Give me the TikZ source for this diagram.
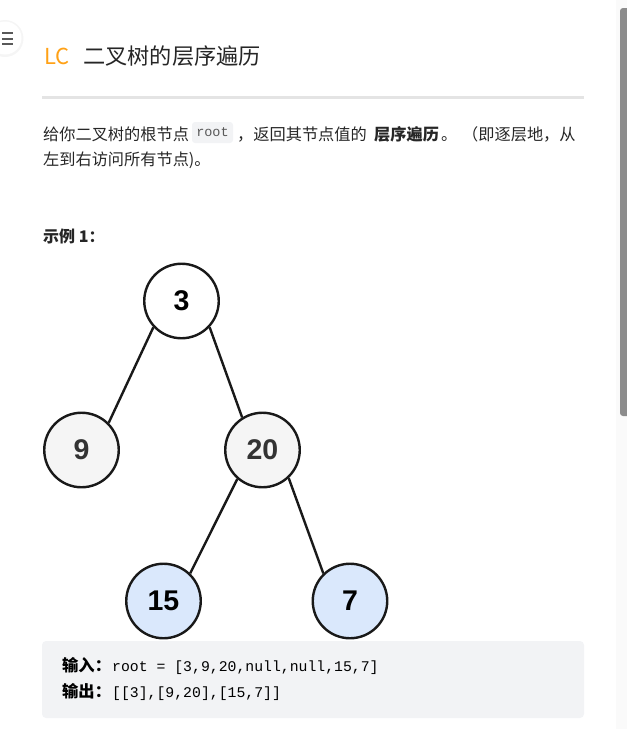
\documentclass[tikz,border=0pt]{standalone}
\usepackage{fontspec}
\setmainfont{Noto Sans CJK SC}
\newfontfamily\digitfont{Liberation Sans}
\newfontfamily\codefont{Liberation Mono}
\usetikzlibrary{positioning}
\definecolor{lcorange}{HTML}{FFA116}
\definecolor{textgray}{HTML}{262626}
\definecolor{codebg}{HTML}{F2F3F5}
\definecolor{rulegray}{HTML}{E4E4E4}
\definecolor{nodegray}{HTML}{F5F5F5}
\definecolor{nodeblue}{HTML}{DAE8FC}
\definecolor{thumbgray}{HTML}{8C8C8C}

\begin{document}
\begin{tikzpicture}[x=1pt, y=-1pt,
    treenode/.style={circle, draw=black!90, line width=2.4pt, minimum size=74.5pt,
      inner sep=0pt, font=\digitfont\bfseries\fontsize{28.5}{28.5}\selectfont},
    edge/.style={line width=2.4pt, black!90},
    txt/.style={anchor=base west, inner sep=0pt, text=textgray},
    body/.style={txt, font=\fontsize{16.2}{16.2}\selectfont}]
    \useasboundingbox (0,0) rectangle (627,729);
    \clip (0,0) rectangle (627,729);

      % menu button and scrollbar
      \fill[black!4] (5,38.5) circle (18.5);
      \fill[white] (5,38) circle (16.5);
      \foreach \y in {33,38.5,44}
        \draw[line width=2pt, black!65] (2,\y) -- (13,\y);
      \fill[black!2] (616,0) rectangle (627,729);
      \fill[thumbgray, rounded corners=3pt] (620,8) rectangle (632,416);

      % title
      \node[txt, text=lcorange, font=\fontsize{22}{22}\selectfont] (lc) at (44,64) {LC};
      \node[txt, font=\fontsize{22.2}{22.2}\selectfont] (title) at (83,64) {二叉树的层序遍历};
      \fill[rulegray] (42,95.5) rectangle (584,98.5);

      % description
      \node[body] (line1a) at (43,140) {给你二叉树的根节点};
      \node[fill=codebg, rounded corners=3pt, minimum width=41pt, minimum height=21pt,
        inner sep=0pt, text=black!65, font=\codefont\fontsize{13.5}{13.5}\selectfont]
        (rootcode) at (212.5,132.5) {root};
      \node[body] (line1b) at (237,140) {，返回其节点值的};
      \node[body, font=\bfseries\fontsize{16.2}{16.2}\selectfont] (line1c) at (374,140) {层序遍历};
      \node[body] (line1d) at (441,140) {。};
      \node[body] (line1e) at (462,140) {（即逐层地，从};
      \node[body] (line2) at (43,165) {左到右访问所有节点)。};

      \node[txt, font=\bfseries\fontsize{16}{16}\selectfont] (example) at (43,242) {示例 1：};

      % tree
      \node[treenode, fill=white] (n3) at (181.5,301) {3};
      \node[treenode, fill=nodegray, text=black!80] (n9) at (81.5,450) {9};
      \node[treenode, fill=nodegray, text=black!80] (n20) at (262.5,450) {20};
      \node[treenode, fill=nodeblue] (n15) at (163.5,601) {15};
      \node[treenode, fill=nodeblue] (n7) at (350,601) {7};

      \draw[edge] (n3.223) -- (n9.45);
      \draw[edge] (n3.317) -- (n20.122);
      \draw[edge] (n20.229) -- (n15.46);
      \draw[edge] (n20.313) -- (n7.134);

      % input / output
      \fill[codebg, rounded corners=4pt] (42,641) rectangle (584,718);
      \node[txt, text=black, font=\bfseries\fontsize{16.3}{16.3}\selectfont] (inlabel) at (62,671) {输入：};
      \node[txt, text=black, font=\codefont\fontsize{14.8}{14.8}\selectfont] (incode) at (112,671) {root = [3,9,20,null,null,15,7]};
      \node[txt, text=black, font=\bfseries\fontsize{16.3}{16.3}\selectfont] (outlabel) at (62,697) {输出：};
      \node[txt, text=black, font=\codefont\fontsize{14.8}{14.8}\selectfont] (outcode) at (112,697) {[[3],[9,20],[15,7]]};
\end{tikzpicture}
\end{document}
